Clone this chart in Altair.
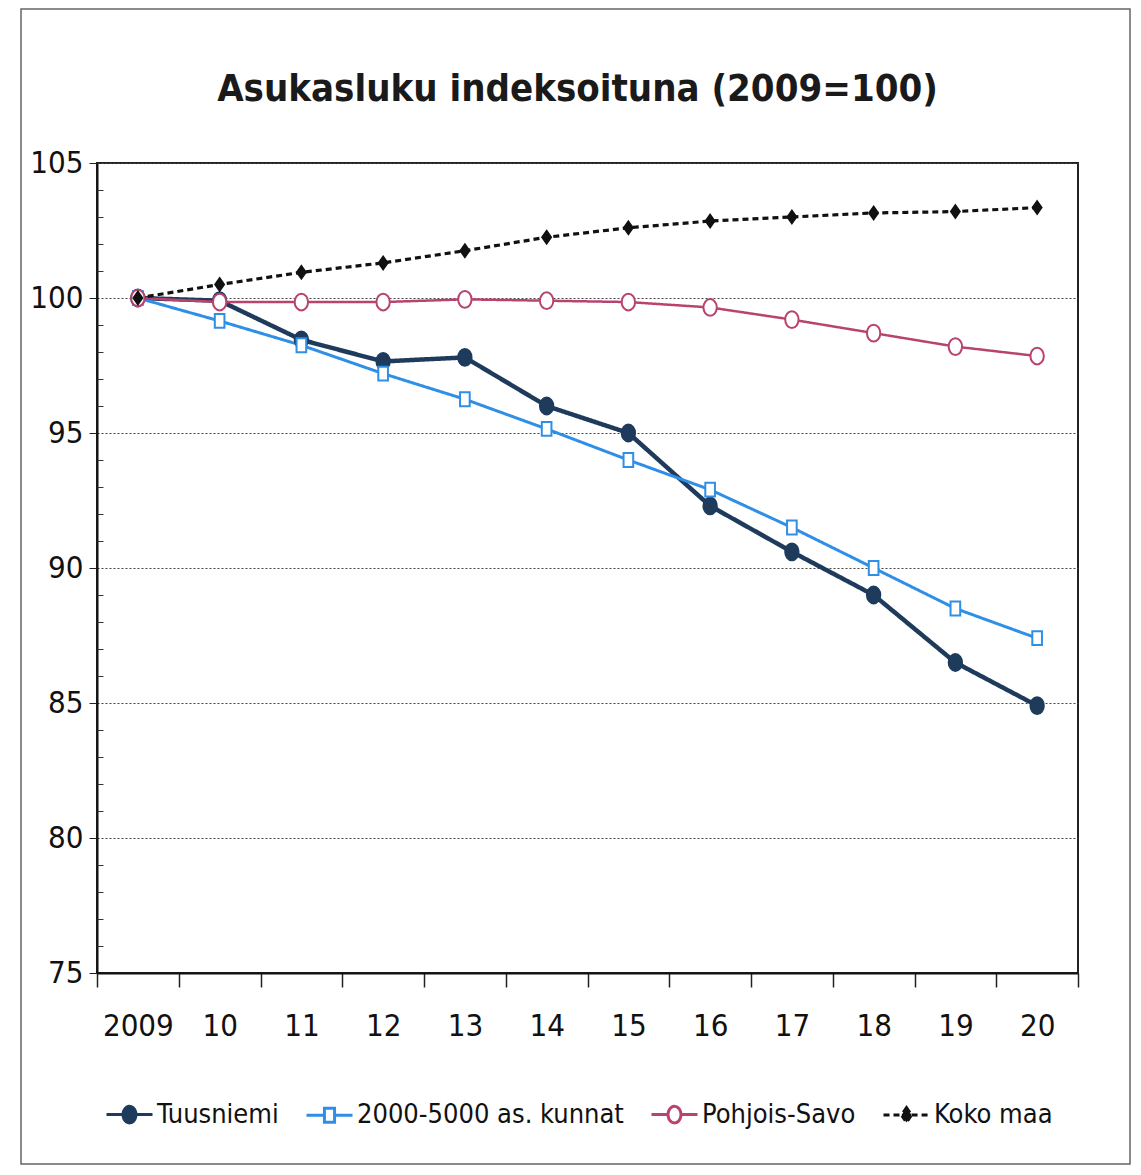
import altair as alt
import pandas as pd

# ---------------- data ----------------
years = ["2009", "10", "11", "12", "13", "14", "15", "16", "17", "18", "19", "20"]
series = ["Tuusniemi", "2000-5000 as. kunnat", "Pohjois-Savo", "Koko maa"]

tuusniemi = [100.0, 99.9, 98.45, 97.65, 97.8, 96.0, 95.0, 92.3, 90.6, 89.0, 86.5, 84.9]
kunnat = [100.0, 99.15, 98.25, 97.2, 96.25, 95.15, 94.0, 92.9, 91.5, 90.0, 88.5, 87.4]
pohjois_savo = [100.0, 99.85, 99.85, 99.85, 99.95, 99.9, 99.85, 99.65, 99.2, 98.7, 98.2, 97.85]
koko_maa = [100.0, 100.5, 100.95, 101.3, 101.75, 102.25, 102.6, 102.85, 103.0, 103.15, 103.2, 103.35]
series_values = [tuusniemi, kunnat, pohjois_savo, koko_maa]

y_major = [75, 80, 85, 90, 95, 100, 105]
y_minor = [v for v in range(76, 105) if v % 5 != 0]

# ---------------- styles ----------------
FONT = "'Liberation Sans Narrow', 'DejaVu Sans Condensed', 'Arial Narrow', sans-serif"
colors = ["#1f3b5c", "#2f8fe6", "#b8436f", "#111111"]
fills = ["#1f3b5c", "#ffffff", "#ffffff", "#111111"]
line_widths = [4.5, 3, 2.5, 3.2]
dashes = [[1, 0], [1, 0], [1, 0], [6, 4]]
marker_paths = [
    "M-0.8,0A0.8,1 0 1,0 0.8,0A0.8,1 0 1,0 -0.8,0Z",
    "M-0.7,-1H0.7V1H-0.7Z",
    "M-0.8,0A0.8,1 0 1,0 0.8,0A0.8,1 0 1,0 -0.8,0Z",
    "M0,-1L0.7,0L0,1L-0.7,0Z",
]
marker_sizes = [300, 190, 280, 180]
marker_strokes = [1.5, 2, 2, 1.5]
legend_paths = [
    "M-1,0H-0.28M0.28,0H1M-0.28,0A0.28,0.36 0 1,0 0.28,0A0.28,0.36 0 1,0 -0.28,0Z",
    "M-1,0H-0.22M0.22,0H1M-0.22,-0.3H0.22V0.3H-0.22Z",
    "M-1,0H-0.28M0.28,0H1M-0.28,0A0.28,0.36 0 1,0 0.28,0A0.28,0.36 0 1,0 -0.28,0Z",
    "M-1,0H-0.22M0.22,0H1M0,-0.32L0.22,0L0,0.32L-0.22,0Z",
]

rows = []
for name, vals in zip(series, series_values):
    for yr, v in zip(years, vals):
        rows.append({"year": yr, "series": name, "value": v})
df = pd.DataFrame(rows)

X = alt.X(
    "year:N",
    sort=years,
    scale=alt.Scale(type="band", domain=years, paddingInner=0, paddingOuter=0),
    axis=alt.Axis(
        title=None, labelAngle=0, tickBand="extent", tickSize=14, tickColor="#222",
        tickWidth=1.5, domainColor="#111", domainWidth=2, labelFontSize=31,
        labelFont=FONT, labelColor="#111", labelPadding=24, grid=False,
    ),
)
Y = alt.Y(
    "value:Q",
    scale=alt.Scale(domain=[75, 105], nice=False, zero=False),
    axis=alt.Axis(
        title=None, values=y_major, tickSize=8, tickColor="#222", labelPadding=6,
        labelFontSize=31, labelFont=FONT, labelColor="#111", grid=True,
        gridDash=[2, 2], gridColor="#444", gridWidth=1.2, domainColor="#111",
        domainWidth=2, minExtent=84, maxExtent=84,
    ),
)
Y_minor = alt.Y(
    "value:Q",
    scale=alt.Scale(domain=[75, 105], nice=False, zero=False),
    axis=alt.Axis(
        title=None, orient="left", values=y_minor, labels=False, domain=False,
        grid=False, tickSize=6, offset=-6, tickColor="#333", tickWidth=1,
    ),
)

base = alt.Chart(df)

# chart-area border (decoration, like the Excel chart frame)
frame = (
    alt.Chart(pd.DataFrame({"k": [0]}))
    .mark_rect(fill="white", fillOpacity=0, stroke="#666", strokeWidth=1.5)
    .encode(x=alt.value(-76), x2=alt.value(1033), y=alt.value(-154), y2=alt.value(1001))
)

layers = [frame]
for i, name in enumerate(series):
    layers.append(
        base.transform_filter(alt.datum.series == name)
        .mark_line(color=colors[i], strokeWidth=line_widths[i], strokeDash=dashes[i])
        .encode(x=X, y=Y)
    )
for i, name in enumerate(series):
    layers.append(
        base.transform_filter(alt.datum.series == name)
        .mark_point(shape=marker_paths[i], size=marker_sizes[i], filled=True,
                    fill=fills[i], stroke=colors[i], strokeWidth=marker_strokes[i],
                    opacity=1)
        .encode(x=X, y=Y)
    )

leg = alt.Legend(
    title=None, orient="none", legendX=8, legendY=927, direction="horizontal",
    columns=4, columnPadding=21, symbolSize=2116, symbolStrokeWidth=3,
    labelFontSize=27, labelFont=FONT, labelColor="#111", labelLimit=400,
    labelOffset=3, symbolOpacity=1,
)
legend_layer = (
    base.transform_filter("false")
    .mark_point(filled=True, opacity=1, strokeWidth=3)
    .encode(
        x=X, y=Y,
        shape=alt.Shape("series:N", scale=alt.Scale(domain=series, range=legend_paths), legend=leg),
        fill=alt.Fill("series:N", scale=alt.Scale(domain=series, range=fills), legend=leg),
        stroke=alt.Stroke("series:N", scale=alt.Scale(domain=series, range=colors), legend=leg),
        strokeDash=alt.StrokeDash("series:N", scale=alt.Scale(domain=series, range=dashes), legend=leg),
    )
)
layers.append(legend_layer)

main = alt.layer(*layers)
minor = base.transform_filter("false").mark_point().encode(y=Y_minor)

chart = (
    alt.layer(main, minor)
    .resolve_axis(y="independent")
    .properties(
        width=981,
        height=810,
        padding={"left": 5, "top": 0, "right": 0, "bottom": 0},
        background="white",
        title=alt.TitleParams(
            "Asukasluku indeksoituna (2009=100)", fontSize=38, font=FONT,
            fontWeight="bold", anchor="middle", offset=-101, color="#1a1a1a", dx=-10,
        ),
    )
    .configure_view(stroke="#222", strokeWidth=2)
)

chart.save("out.html", embed_options={"renderer": "svg", "actions": False})
